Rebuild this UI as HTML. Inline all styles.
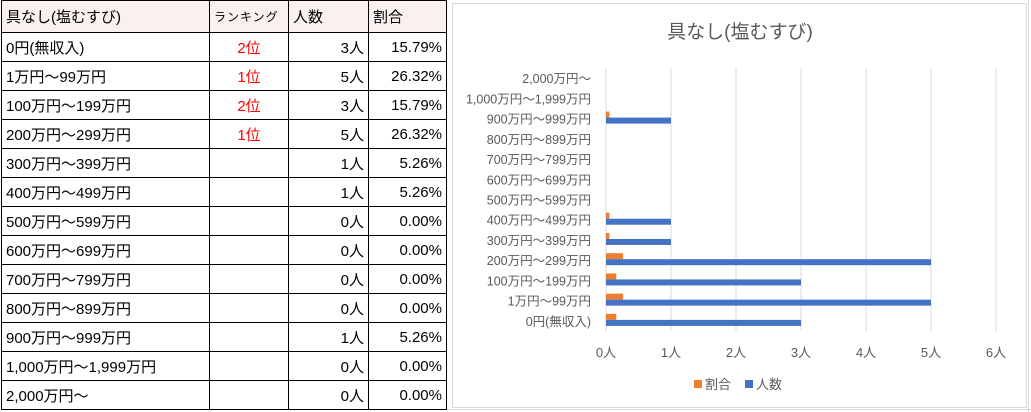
<!DOCTYPE html>
<html><head><meta charset="utf-8">
<style>
*{margin:0;padding:0;box-sizing:border-box}
body{width:1031px;height:412px;background:#fff;position:relative;overflow:hidden;font-family:"Liberation Sans","Noto Sans CJK JP",sans-serif;}
table{position:absolute;left:1px;top:0;border-collapse:collapse;font-size:15px;color:#000}
td{border:1px solid #000;height:29px;padding:0 4px;white-space:nowrap}
tr.h td{height:32px;background:#fbf0f0}
td.r{text-align:right}
td.c{text-align:center;color:#f00}
.grid{position:absolute;background:#d9d9d9}
</style></head><body>
<div class="grid" style="left:1028px;top:0;width:1px;height:412px"></div>
<div class="grid" style="left:446px;top:409px;width:585px;height:1px"></div>
<table>
<colgroup><col style="width:208px"><col style="width:79px"><col style="width:80px"><col style="width:78px"></colgroup>
<tr class="h"><td>具なし(塩むすび)</td><td style="font-size:12px;letter-spacing:1px">ランキング</td><td>人数</td><td>割合</td></tr>
<tr><td>0円(無収入)</td><td class="c">2位</td><td class="r">3人</td><td class="r">15.79%</td></tr>
<tr><td>1万円～99万円</td><td class="c">1位</td><td class="r">5人</td><td class="r">26.32%</td></tr>
<tr><td>100万円～199万円</td><td class="c">2位</td><td class="r">3人</td><td class="r">15.79%</td></tr>
<tr><td>200万円～299万円</td><td class="c">1位</td><td class="r">5人</td><td class="r">26.32%</td></tr>
<tr><td>300万円～399万円</td><td></td><td class="r">1人</td><td class="r">5.26%</td></tr>
<tr><td>400万円～499万円</td><td></td><td class="r">1人</td><td class="r">5.26%</td></tr>
<tr><td>500万円～599万円</td><td></td><td class="r">0人</td><td class="r">0.00%</td></tr>
<tr><td>600万円～699万円</td><td></td><td class="r">0人</td><td class="r">0.00%</td></tr>
<tr><td>700万円～799万円</td><td></td><td class="r">0人</td><td class="r">0.00%</td></tr>
<tr><td>800万円～899万円</td><td></td><td class="r">0人</td><td class="r">0.00%</td></tr>
<tr><td>900万円～999万円</td><td></td><td class="r">1人</td><td class="r">5.26%</td></tr>
<tr><td>1,000万円～1,999万円</td><td></td><td class="r">0人</td><td class="r">0.00%</td></tr>
<tr><td>2,000万円～</td><td></td><td class="r">0人</td><td class="r">0.00%</td></tr>
</table>
<svg id="chart" width="1031" height="412" style="position:absolute;left:0;top:0" font-family="Liberation Sans, Noto Sans CJK JP, sans-serif">
<rect x="452.5" y="3.5" width="574" height="404" fill="#fff" stroke="#d9d9d9"/>
<text x="740" y="38" text-anchor="middle" font-size="19" fill="#595959">具なし(塩むすび)</text>
<g id="g"></g>
<rect x="694" y="380" width="8" height="8" fill="#ed7d31"/>
<text x="705" y="389" font-size="13" fill="#595959">割合</text>
<rect x="745" y="380" width="8" height="8" fill="#4472c4"/>
<text x="756" y="389" font-size="13" fill="#595959">人数</text>
</svg>
<script>
const categories=["0円(無収入)","1万円～99万円","100万円～199万円","200万円～299万円","300万円～399万円","400万円～499万円","500万円～599万円","600万円～699万円","700万円～799万円","800万円～899万円","900万円～999万円","1,000万円～1,999万円","2,000万円～"];
const counts=[3,5,3,5,1,1,0,0,0,0,1,0,0];
const ratios=[0.1579,0.2632,0.1579,0.2632,0.0526,0.0526,0,0,0,0,0.0526,0,0];
const ticks=[0,1,2,3,4,5,6];
const tickLabels=["0人","1人","2人","3人","4人","5人","6人"];
const NS="http://www.w3.org/2000/svg";
const g=document.getElementById('g');
const x0=606,x1=996,yTop=68,yBot=331;
const xs=v=>x0+(v-0)/(6-0)*(x1-x0);
const band=(yBot-yTop)/categories.length;
const yc=i=>yBot-band*(i+0.5);
function mk(t,a){const e=document.createElementNS(NS,t);for(const k in a)e.setAttribute(k,a[k]);g.appendChild(e);return e;}
ticks.forEach((t,i)=>{
 const l=mk('line',{x1:xs(t),x2:xs(t),y1:yTop,y2:yBot,stroke:'#d9d9d9'});
 
 
 const tx=mk('text',{x:xs(t),y:357,'text-anchor':'middle','font-size':13,fill:'#595959'});
 tx.textContent=tickLabels[i];
 
 
});
categories.forEach((c,i)=>{
 const tx=mk('text',{x:591,y:yc(i)+5,'text-anchor':'end','font-size':12.5,fill:'#595959'});
 tx.textContent=c;
 
 
 if(ratios[i]>0){const r=mk('rect',{x:xs(0),y:yc(i)-7,width:xs(ratios[i])-xs(0),height:6,fill:'#ed7d31'});
 
 }
 if(counts[i]>0){const b=mk('rect',{x:xs(0),y:yc(i)-1,width:xs(counts[i])-xs(0),height:6,fill:'#4472c4'});
 
 }
});
</script>
</body></html>
